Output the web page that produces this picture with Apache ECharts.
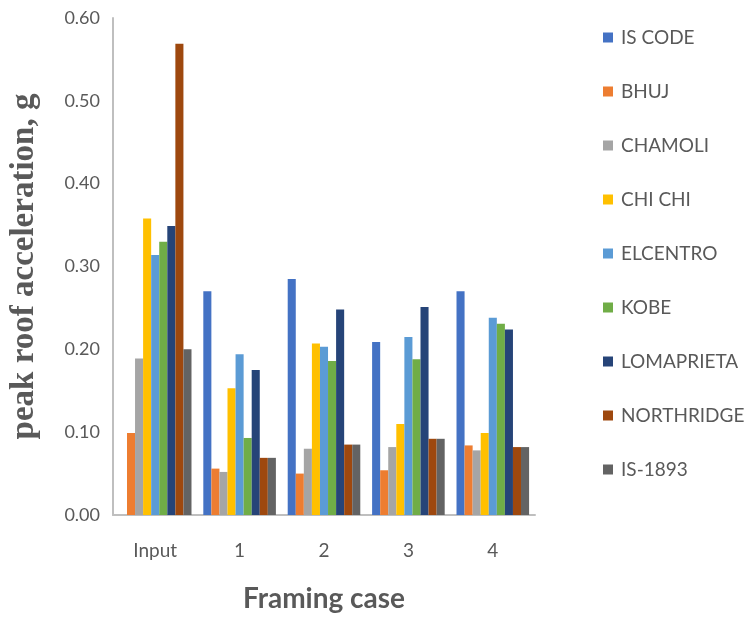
<!DOCTYPE html>
<html>
<head>
<meta charset="utf-8">
<script src="https://cdn.jsdelivr.net/npm/echarts@6/dist/echarts.min.js"></script>
<style>html,body{margin:0;padding:0;background:#fff;}#c{width:749px;height:618px;}</style>
</head>
<body>
<div id="c"></div>
<script>
const categories = ['Input', '1', '2', '3', '4'];
const seriesNames = ['IS CODE', 'BHUJ', 'CHAMOLI', 'CHI CHI', 'ELCENTRO', 'KOBE', 'LOMAPRIETA', 'NORTHRIDGE', 'IS-1893'];
const isCode     = [null, 0.270, 0.285, 0.209, 0.270];
const bhuj       = [0.099, 0.056, 0.050, 0.054, 0.084];
const chamoli    = [0.189, 0.052, 0.080, 0.082, 0.078];
const chiChi     = [0.358, 0.153, 0.207, 0.110, 0.099];
const elcentro   = [0.314, 0.194, 0.203, 0.215, 0.238];
const kobe       = [0.330, 0.093, 0.186, 0.188, 0.231];
const lomaprieta = [0.349, 0.175, 0.248, 0.251, 0.224];
const northridge = [0.569, 0.069, 0.085, 0.092, 0.082];
const is1893     = [0.200, 0.069, 0.085, 0.092, 0.082];
const seriesData = [isCode, bhuj, chamoli, chiChi, elcentro, kobe, lomaprieta, northridge, is1893];
const colors = ['#4472C4', '#ED7D31', '#A5A5A5', '#FFC000', '#5B9BD5', '#70AD47', '#264478', '#9E480E', '#636363'];

const chart = echarts.init(document.getElementById('c'));
chart.setOption({
  animation: false,
  color: colors,
  grid: { left: 113, right: 214, top: 18, bottom: 98, containLabel: false },
  legend: {
    orient: 'vertical',
    left: 598,
    top: 23,
    itemWidth: 10,
    itemHeight: 10,
    itemGap: 35,
    icon: 'rect',
    textStyle: { fontFamily: 'Lato', fontSize: 19, color: '#595959', lineHeight: 19, padding: [0, 0, 0, 3] },
    data: seriesNames
  },
  xAxis: {
    type: 'category',
    data: categories,
    name: 'Framing case',
    nameLocation: 'middle',
    nameGap: 70,
    nameTextStyle: { fontFamily: 'Lato', fontWeight: 'bold', fontSize: 28, color: '#595959' },
    axisLine: { lineStyle: { color: '#BFBFBF', width: 2 } },
    axisTick: { show: false },
    axisLabel: { fontFamily: 'Lato', fontSize: 19, color: '#595959', margin: 26 }
  },
  yAxis: {
    type: 'value',
    min: 0, max: 0.6, interval: 0.1,
    name: 'peak roof acceleration, g',
    nameLocation: 'middle',
    nameGap: 72,
    nameTextStyle: { fontFamily: 'Liberation Serif', fontWeight: 'bold', fontSize: 33, color: '#595959' },
    axisLine: { show: true, lineStyle: { color: '#BFBFBF', width: 2 } },
    axisTick: { show: false },
    splitLine: { show: false },
    axisLabel: { fontFamily: 'Lato', fontSize: 18, color: '#595959', margin: 13, formatter: v => v.toFixed(2) }
  },
  series: seriesNames.map((n, i) => ({
    name: n,
    type: 'bar',
    data: seriesData[i],
    barGap: '0%',
    barCategoryGap: '14%'
  }))
});
</script>
</body>
</html>
